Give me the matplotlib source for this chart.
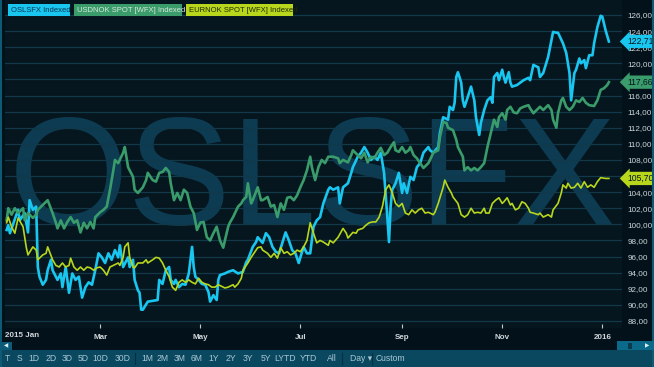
import numpy as np
import matplotlib
matplotlib.use("Agg")
import matplotlib.pyplot as plt
from matplotlib.patches import Rectangle
from matplotlib.transforms import blended_transform_factory

# days since 2015-01-01, index values
osl_days = [2, 3, 4, 9, 10, 13, 15, 16, 18, 20, 21, 22, 24, 26, 27, 29, 30, 33, 35, 36,
            38, 40, 42, 44, 46, 48, 50, 52, 54, 56, 58, 60, 62, 64, 66, 68, 70, 71, 73, 76,
            77, 79, 80, 82, 83, 84, 85, 88, 94, 95,
            97, 99, 101, 102, 104, 105, 107, 109, 111, 113, 115, 116, 117, 119, 121, 123, 125,
            126, 128, 130, 131, 132, 135, 137, 140, 143, 146, 148, 149, 152, 154, 155, 158, 160,
            162, 164, 166, 168, 170, 172, 174, 176, 178, 180, 181, 183, 185, 187, 189,
            191, 193, 195, 198, 199, 201, 204, 205, 207, 210, 212, 213, 216, 218, 220, 222, 224,
            226, 228, 230, 232, 234, 235, 236, 237, 239, 241, 243, 244, 246, 248, 250, 252, 254,
            256, 259, 260, 262, 265, 266, 268, 271, 272, 274, 275, 276, 277, 279, 280, 281, 283,
            285, 287, 288, 290, 291, 293, 295, 297, 298, 299, 301, 302, 304, 305, 306, 308, 309,
            310, 313, 315, 317, 320, 321, 323, 326, 327, 329, 332, 334, 335, 337, 338, 341, 343,
            345, 346, 348, 349, 351, 352, 354, 355, 357, 359, 360, 362, 364, 365, 367, 369]
osl_vals = [99.3, 99.9, 98.9, 101.8, 100.5, 101.4, 99.0, 103.0, 101.8, 102.2, 94.7, 93.5, 92.5,
            93.1, 94.3, 95.6, 94.3, 93.1, 93.9, 92.2, 94.7, 91.5, 93.9, 93.1, 93.5, 90.9, 92.2,
            92.8, 92.5, 94.3, 96.4, 95.9, 95.2, 96.4, 95.6, 96.8, 95.9, 97.4, 94.7, 95.9, 94.7,
            95.6, 93.1, 91.8, 91.5, 89.4, 89.4, 90.4, 90.6, 93.1,
            92.6, 94.3, 94.7, 93.1, 92.6, 93.1, 92.2, 92.6, 92.5, 93.9, 97.2, 94.7, 93.5, 93.1,
            92.6, 92.5, 91.6, 90.4, 91.2, 90.6, 93.1, 93.7, 93.9, 94.1, 94.3, 93.9, 94.1, 95.3,
            95.6, 97.2, 97.8, 98.4, 97.7, 98.9, 98.4, 97.2, 96.6, 96.4, 97.7, 99.0, 98.0, 96.8,
            96.4, 95.2, 95.9, 97.2, 96.4, 96.4, 99.7,
            100.5, 100.9, 102.6, 104.3, 104.6, 104.3, 104.6, 102.6, 104.6, 105.1, 106.4, 107.1,
            108.4, 108.9, 109.6, 108.9, 108.0, 108.4, 108.0, 108.9, 106.4, 100.9, 97.8, 102.2,
            104.3, 105.1, 106.4, 103.9, 105.1, 103.9, 105.9, 105.5, 107.1, 107.6, 108.9, 109.6,
            109.2, 108.9, 109.6, 111.3, 113.3, 113.0, 114.6, 114.2, 115.1, 118.3, 118.9, 117.6,
            115.4, 114.6, 115.8,
            117.1, 115.4, 113.3, 111.1, 112.6, 114.2, 115.4, 115.8, 115.1, 118.3, 118.8, 117.9,
            119.2, 118.3, 117.6, 118.9, 117.6, 117.1, 117.3, 117.6, 117.9, 118.2, 117.9, 119.8,
            119.5, 118.3, 118.8, 120.8, 122.9, 123.9, 123.8, 123.8, 122.5, 121.3, 118.8, 115.4,
            118.8, 119.2, 120.6, 120.0, 120.4, 119.4, 121.0, 121.0, 122.5, 124.5, 125.9, 125.8,
            124.1, 122.71]

usd_days = [2, 3, 5, 7, 9, 12, 13, 15, 18, 20, 21, 24, 26, 27, 30, 32, 33, 35, 37, 39, 41, 43,
            45, 47, 49, 51, 53, 55, 56, 59, 61, 63, 65, 67, 68, 70, 73, 74, 76, 79, 80, 82, 85,
            87, 88, 91, 93,
            95, 97, 99, 101, 102, 104, 106, 108, 110, 112, 114, 116, 118, 120, 122, 124, 126,
            128, 130, 132, 134, 135, 137, 138, 140, 143, 145, 146, 148, 149, 151, 152, 155, 157,
            158, 161, 163, 165, 167, 169, 171, 173, 175, 177, 179, 181, 183, 185, 187, 188, 190,
            192, 194, 196, 198, 201, 204, 205, 207, 210, 212, 213, 216, 218, 220, 222, 224, 226,
            228, 230, 232, 234, 236, 238, 239, 241, 243, 245, 247, 248, 250, 252, 254, 256, 259,
            260, 262, 265, 266, 268, 270, 271, 274, 276, 277, 280, 281, 283,
            285, 287, 289, 291, 293, 295, 297, 299, 301, 302, 304, 306, 307, 309, 311, 313, 315,
            317, 320, 321, 323, 326, 327, 329, 332, 334, 335, 337, 338, 340, 341, 343, 345, 347,
            349, 351, 353, 355, 357, 360, 362, 364, 366, 368, 369]
usd_vals = [100.5, 102.0, 101.2, 102.0, 101.4, 102.0, 100.5, 101.4, 100.8, 101.2, 101.8, 102.4,
            102.8, 103.0, 101.4, 100.2, 99.5, 100.5, 99.5, 100.3, 100.9, 100.2, 100.5, 99.0,
            100.2, 99.5, 100.3, 99.5, 100.9, 101.5, 101.8, 102.2, 104.3, 106.7, 108.0, 107.6,
            108.9, 109.6, 107.1, 105.9, 104.3, 103.9, 104.6, 105.5, 106.4, 105.5, 105.3,
            106.4, 106.5, 107.0, 106.5, 105.1, 103.0, 103.9, 103.0, 104.3, 103.9, 102.2, 101.4,
            99.3, 100.2, 100.3, 98.4, 98.0, 98.9, 99.7, 98.0, 97.1, 98.0, 99.7, 100.2, 100.9,
            102.2, 102.6, 103.0, 103.4, 105.1, 102.6, 103.0, 104.6, 103.0, 103.0, 103.4, 102.2,
            102.4, 100.9, 102.6, 101.8, 103.3, 103.4, 103.0, 103.6, 104.6, 105.5, 106.7, 108.4,
            107.1, 105.5,
            107.1, 108.0, 107.6, 108.4, 108.4, 108.2, 107.6, 108.0, 107.7, 108.6, 109.2, 108.6,
            108.2, 108.9, 107.7, 108.4, 108.2, 108.9, 109.5, 108.6, 108.9, 109.6, 110.2, 109.2,
            109.0, 109.6, 108.9, 109.2, 109.6, 108.6, 108.2, 107.6, 107.0, 107.6, 108.0, 108.9,
            109.2, 110.8, 112.7, 112.6, 112.0, 111.7, 110.5, 109.6, 108.4, 106.7, 107.1,
            106.7, 107.0, 106.7, 107.1, 107.6, 109.6, 111.3, 113.0, 112.1, 113.3, 113.8, 113.0,
            114.2, 114.6, 113.9, 113.8, 114.4, 114.6, 114.8, 114.4, 113.8, 114.4, 114.6, 114.2,
            114.8, 114.2, 113.0, 112.0, 113.8, 115.4, 115.7, 114.6, 114.2, 114.6, 115.4, 115.2,
            115.7, 115.1, 114.8, 114.7, 115.4, 116.7, 116.9, 117.3, 117.66]

eur_days = [2, 3, 5, 7, 9, 12, 13, 14, 15, 18, 20, 21, 24, 26, 27, 30, 32, 34, 36, 38, 40, 41,
            43, 45, 47, 49, 51, 53, 55, 57, 59, 61, 63, 65, 67, 70, 71, 73, 74, 76, 77, 79, 80,
            82, 85, 87, 88, 91, 93,
            95, 97, 99, 101, 103, 105, 107, 109, 111, 113, 115, 117, 119, 121, 123, 125, 127,
            129, 131, 134, 135, 137, 140, 141, 143, 145, 146, 149, 151, 152, 155, 157, 158, 161,
            163, 165, 167, 169, 171, 173, 175, 177, 179, 181, 183, 185, 187, 189,
            191, 193, 195, 198, 199, 201, 204, 207, 209, 210, 213, 215, 216, 219, 221, 223, 225,
            227, 229, 231, 233, 235, 237, 239, 241, 243, 245, 247, 249, 251, 253, 255, 257, 259,
            262, 263, 265, 268, 269, 271, 273, 274, 277, 279, 281, 283,
            285, 287, 289, 291, 293, 294, 296, 298, 300, 302, 304, 305, 307, 309, 310, 312, 314,
            316, 318, 320, 321, 323, 326, 327, 329, 332, 334, 335, 338, 340, 341, 343, 344, 346,
            348, 350, 352, 354, 356, 358, 360, 362, 364, 367, 369]
eur_vals = [100.2, 100.9, 99.7, 98.9, 100.8, 99.7, 98.4, 97.1, 96.2, 97.2, 96.8, 95.6, 96.2,
            96.4, 97.2, 95.6, 94.9, 94.7, 95.2, 94.7, 94.9, 95.8, 94.7, 94.3, 94.7, 94.3, 94.7,
            94.6, 94.3, 94.6, 94.7, 94.3, 93.7, 94.7, 94.9, 95.2, 94.9, 95.9, 97.2, 97.7, 95.9,
            94.7, 94.6, 95.2, 95.2, 95.6, 95.2, 95.6, 95.9,
            95.8, 95.2, 94.3, 93.5, 92.2, 91.8, 92.8, 93.1, 92.8, 93.1, 92.8, 92.6, 93.3, 92.8,
            92.6, 92.5, 92.2, 92.2, 92.5, 92.2, 92.1, 92.2, 92.5, 92.2, 92.6, 93.3, 94.3, 95.2,
            95.9, 96.2, 97.1, 97.2, 96.8, 96.4, 95.9, 96.4, 95.8, 97.1, 96.4, 96.6, 96.2, 96.4,
            96.8, 96.6, 97.2, 98.0, 100.2, 98.9,
            97.7, 98.0, 97.8, 97.4, 98.0, 97.7, 98.4, 99.5, 98.9, 98.3, 99.0, 98.9, 99.3, 99.5,
            99.9, 100.2, 100.3, 100.3, 100.9, 102.2, 104.3, 104.9, 103.9, 102.6, 102.2, 102.6,
            101.4, 101.2, 101.8, 101.4, 101.8, 102.0, 101.4, 101.5, 101.2, 101.5, 102.6, 104.6,
            105.5, 104.6, 103.9, 103.4, 102.6, 101.2, 100.9, 101.2,
            102.0, 101.4, 101.5, 101.4, 102.0, 101.4, 101.4, 102.6, 103.0, 103.3, 102.6, 102.8,
            103.3, 102.4, 102.6, 101.8, 102.0, 102.8, 102.6, 102.0, 101.5, 101.4, 101.2, 101.4,
            100.9, 101.2, 100.9, 101.8, 102.6, 103.9, 104.9, 104.5, 105.1, 104.5, 104.6, 105.1,
            104.5, 105.3, 104.6, 104.9, 104.6, 105.3, 105.8, 105.7, 105.70]

series_names = ["OSLSFX Indexed", "USDNOK SPOT [WFX] Indexed", "EURNOK SPOT [WFX] Indexed"]
last_labels = ["122,71", "117,66", "105,70"]
month_ticks = ["2015-03-01", "2015-05-01", "2015-07-01", "2015-09-01", "2015-11-01", "2016-01-01"]
month_labels = ["Mar", "May", "Jul", "Sep", "Nov", "2016"]
y_ticks = list(range(88, 127, 2))
buttons = ["T", "S", "1D", "2D", "3D", "5D", "10D", "30D", "1M", "2M", "3M", "6M",
           "1Y", "2Y", "3Y", "5Y", "LYTD", "YTD", "All", "Day \u25be", "Custom"]
button_x = [7, 20, 34, 51, 67, 83, 100, 123, 147, 163, 180, 197,
            214, 231, 248, 266, 285, 308, 332, 361, 390]

cyan = "#18c6f0"
green = "#3a9b6b"
lime = "#b7d61c"
colors = [cyan, green, lime]

W, H = 654, 367
fig = plt.figure(figsize=(W / 100, H / 100), dpi=100)
fig.patch.set_facecolor("#03121a")
plt.rcParams["font.family"] = ["Liberation Sans", "DejaVu Sans"]

ax = fig.add_axes([5 / W, (H - 328) / H, 617 / W, 328 / H])
ax.set_facecolor("#06161e")
base = np.datetime64("2015-01-01")


def to_dates(days):
    return base + np.array(days).astype("timedelta64[D]")


# watermark
ax.text(313 / W, (H - 225) / H, "OSLSFX", transform=fig.transFigure, ha="center",
        va="baseline", fontsize=111, color="#0c3b52", zorder=0)

for d, v, c, lw in [(osl_days, osl_vals, cyan, 1.9), (usd_days, usd_vals, green, 1.9),
                    (eur_days, eur_vals, lime, 1.2)]:
    ax.plot(to_dates(d), v, color=c, lw=lw, zorder=3, solid_joinstyle="round")

ax.set_ylim(127.863 - 0.1242 * 328, 127.863)
ax.set_xlim(base + np.timedelta64(1, "D"), base + np.timedelta64(377, "D"))
ax.set_yticks(y_ticks)
ax.set_yticklabels(["%d,00" % t for t in y_ticks])
ax.grid(axis="y", color="#11394a", lw=0.9, zorder=1)
ax.yaxis.tick_right()
ax.tick_params(axis="y", length=0, pad=4, labelsize=5.9, labelcolor="#cdd4d8")
ax.set_xticks(np.array(month_ticks, dtype="datetime64[D]"))
ax.set_xticklabels(month_labels)
ax.tick_params(axis="x", direction="in", length=3, width=0.8, color="#c0c8cc",
               pad=4, labelsize=5.8, labelcolor="#d0d6da")
for lab in ax.get_xticklabels():
    lab.set_fontweight("bold")
for s in ax.spines.values():
    s.set_visible(False)
ax.text(0, -4 / 328, "2015 Jan", transform=ax.transAxes, ha="left", va="top",
        fontsize=5.8, fontweight="bold", color="#d0d6da")

# last value tags
tr = blended_transform_factory(fig.transFigure, ax.transData)
for lab, val, c in zip(last_labels, [osl_vals[-1], usd_vals[-1], eur_vals[-1]], colors):
    ax.text(627 / W, val, lab, transform=tr, ha="left", va="center", fontsize=6.2,
            color="#06161e", zorder=6, clip_on=False,
            bbox=dict(boxstyle="larrow,pad=0.25", fc=c, ec="none"))

# legend boxes
leg_x = [8, 74, 186]
leg_w = [62, 108, 107]
txt_cols = ["#0b3550", "#d8e8dc", "#1e2a00"]
for name, x, w, c, tc in zip(series_names, leg_x, leg_w, colors, txt_cols):
    fig.patches.append(Rectangle((x / W, (H - 16) / H), w / W, 12 / H,
                                 transform=fig.transFigure, fc=c, ec="none"))
    fig.text((x + 3) / W, (H - 10) / H, name, ha="left", va="center", fontsize=5.5,
             color=tc)

# frame and bottom bar
fig.patches.append(Rectangle((0, 0), 1, 17 / H, transform=fig.transFigure,
                             fc="#0a4860", ec="none"))
fig.patches.append(Rectangle((0, 0), 2 / W, 1, transform=fig.transFigure,
                             fc="#0d5a75", ec="none"))
fig.patches.append(Rectangle((652 / W, 0), 2 / W, 1, transform=fig.transFigure,
                             fc="#0d5a75", ec="none"))
fig.patches.append(Rectangle((0, 17 / H), 12 / W, 8 / H, transform=fig.transFigure,
                             fc="#0b5a78", ec="none"))
fig.patches.append(Rectangle((617 / W, 17 / H), 37 / W, 9 / H, transform=fig.transFigure,
                             fc="#0b6a8a", ec="none"))
fig.patches.append(Rectangle((628 / W, 18.5 / H), 4 / W, 6 / H, transform=fig.transFigure,
                             fc="#0a3a4c", ec="none"))
fig.text(4 / W, 21 / H, "\u25c0", fontsize=4, color="#e0eef4", ha="left", va="center")
fig.text(645 / W, 21 / H, "\u25b6", fontsize=4, color="#e0eef4", ha="left", va="center")
for xs in [135, 342, 372]:
    fig.add_artist(plt.Line2D([xs / W, xs / W], [3 / H, 14 / H], transform=fig.transFigure,
                              color="#06303f", lw=0.8))
for b, x in zip(buttons, button_x):
    fig.text(x / W, 8.5 / H, b, ha="center", va="center", fontsize=6.2, color="#a9c6d4")

fig.savefig("out.png", dpi=100, facecolor=fig.get_facecolor())
